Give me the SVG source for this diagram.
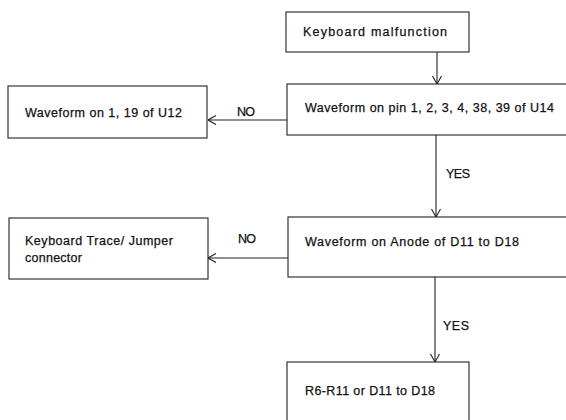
<svg xmlns="http://www.w3.org/2000/svg" width="566" height="420" viewBox="0 0 566 420">
<style>
.box{fill:#fff;stroke:#222;stroke-width:1.1}
.t{font-family:"Liberation Sans",Arial,sans-serif;font-size:12.5px;fill:#111;stroke:#111;stroke-width:0.25}
.c{stroke:#222;stroke-width:1.1;fill:none}
</style>
<defs>
<marker id="ah" viewBox="0 0 10 10" refX="10" refY="5" markerWidth="10" markerHeight="10" markerUnits="userSpaceOnUse" orient="auto">
<path d="M2,0.5 L10,5 L2,9.5" fill="none" stroke="#222" stroke-width="1.1"/>
</marker>
</defs>
<rect width="566" height="420" fill="#fff"/>
<g id="connectors">
<line class="c" x1="437" y1="52" x2="437" y2="84" marker-end="url(#ah)"/>
<line class="c" x1="287" y1="120" x2="208" y2="120" marker-end="url(#ah)"/>
<line class="c" x1="436" y1="135" x2="436" y2="217" marker-end="url(#ah)"/>
<line class="c" x1="288" y1="258" x2="208" y2="258" marker-end="url(#ah)"/>
<line class="c" x1="435" y1="277" x2="435" y2="362" marker-end="url(#ah)"/>
<text class="t" x="237" y="116" textLength="18">NO</text>
<text class="t" x="446" y="178" textLength="24">YES</text>
<text class="t" x="238" y="243" textLength="18">NO</text>
<text class="t" x="443" y="330" textLength="26">YES</text>
</g>
<g id="n1">
<rect class="box" x="286" y="12" width="183" height="40"/>
<text class="t" x="303" y="36" textLength="144">Keyboard malfunction</text>
</g>
<g id="n2">
<rect class="box" x="287" y="84" width="290" height="51"/>
<text class="t" x="305" y="112" textLength="249">Waveform on pin 1, 2, 3, 4, 38, 39 of U14</text>
</g>
<g id="n3">
<rect class="box" x="8" y="86" width="199" height="52"/>
<text class="t" x="25" y="117" textLength="157">Waveform on 1, 19 of U12</text>
</g>
<g id="n4">
<rect class="box" x="288" y="217" width="290" height="60"/>
<text class="t" x="305" y="246" textLength="214">Waveform on Anode of D11 to D18</text>
</g>
<g id="n5">
<rect class="box" x="9" y="218" width="199" height="61"/>
<text class="t" x="25" y="245" textLength="148">Keyboard Trace/ Jumper</text>
<text class="t" x="25" y="262" textLength="57">connector</text>
</g>
<g id="n6">
<rect class="box" x="287" y="362" width="182" height="70"/>
<text class="t" x="305" y="395" textLength="130">R6-R11 or D11 to D18</text>
</g>
</svg>
